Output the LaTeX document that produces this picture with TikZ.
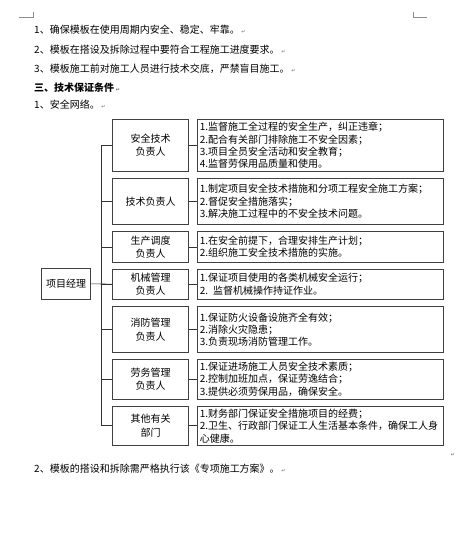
\documentclass[tikz,border=0pt]{standalone}
\usepackage{fontspec}
\setmainfont{Noto Sans CJK SC}
\newfontfamily\symfont{DejaVu Sans}
\newcommand{\pmk}{\,{\symfont\fontsize{5}{5}\selectfont\color{black!60}↵}}
\begin{document}
\begin{tikzpicture}[x=1pt,y=-1pt,
  every node/.style={inner sep=0pt, font=\fontsize{10}{12.4}\selectfont, text=black},
  lbox/.style={draw=black!75, line width=0.6pt, minimum width=75.6pt, align=center, font=\fontsize{10}{13.2}\selectfont},
  rbox/.style={draw=black!75, line width=0.6pt, text width=241pt, inner xsep=2.5pt, align=left},
  para/.style={anchor=west, font=\fontsize{10}{11}\selectfont},
  conn/.style={draw=black!80, line width=0.6pt},
  cornermark/.style={draw=black!45, line width=0.6pt}]
\useasboundingbox (0,0) rectangle (463,538);
% page corner marks
\coordinate (c1a) at (33,12); \coordinate (c1b) at (33,17); \coordinate (c1c) at (19,17);
\coordinate (c2a) at (413,12); \coordinate (c2b) at (413,17); \coordinate (c2c) at (427,17);
\draw[cornermark] (c1a) -- (c1b) -- (c1c);
\draw[cornermark] (c2a) -- (c2b) -- (c2c);
% text lines
\node[para] (t1) at (34,30) {1、确保模板在使用周期内安全、稳定、牢靠。\pmk};
\node[para] (t2) at (34,50) {2、模板在搭设及拆除过程中要符合工程施工进度要求。\pmk};
\node[para] (t3) at (34,69) {3、模板施工前对施工人员进行技术交底，严禁盲目施工。\pmk};
\node[para] (t4) at (34,88) {\bfseries 三、技术保证条件\pmk};
\node[para] (t5) at (34,105) {1、安全网络。\pmk};
\node[para] (t6) at (34,469) {2、模板的搭设和拆除需严格执行该《专项施工方案》。\pmk};
\node[anchor=west] (t7) at (449,455) {\pmk};
% left boxes
\node[lbox, minimum height=52.4pt] (l1) at (150.5,145.5) {安全技术\\负责人};
\node[lbox, minimum height=46pt] (l2) at (150.5,201.3) {技术负责人};
\node[lbox, minimum height=30.3pt] (l3) at (150.5,246.85) {生产调度\\负责人};
\node[lbox, minimum height=30.3pt] (l4) at (150.5,284.15) {机械管理\\负责人};
\node[lbox, minimum height=46pt] (l5) at (150.5,329.7) {消防管理\\负责人};
\node[lbox, minimum height=39.7pt] (l6) at (150.5,379.15) {劳务管理\\负责人};
\node[lbox, minimum height=39.5pt] (l7) at (150.5,425.75) {其他有关\\部门};
% right boxes
\node[rbox, minimum height=52.4pt] (r1) at (320.3,145.5) {1.监督施工全过程的安全生产，纠正违章；\\2.配合有关部门排除施工不安全因素；\\3.项目全员安全活动和安全教育；\\4.监督劳保用品质量和使用。};
\node[rbox, minimum height=46pt] (r2) at (320.3,201.3) {1.制定项目安全技术措施和分项工程安全施工方案；\\2.督促安全措施落实；\\3.解决施工过程中的不安全技术问题。};
\node[rbox, minimum height=30.3pt] (r3) at (320.3,246.85) {1.在安全前提下，合理安排生产计划；\\2.组织施工安全技术措施的实施。};
\node[rbox, minimum height=30.3pt] (r4) at (320.3,284.15) {1.保证项目使用的各类机械安全运行；\\2. 监督机械操作持证作业。};
\node[rbox, minimum height=46pt] (r5) at (320.3,329.7) {1.保证防火设备设施齐全有效；\\2.消除火灾隐患；\\3.负责现场消防管理工作。};
\node[rbox, minimum height=39.7pt] (r6) at (320.3,379.15) {1.保证进场施工人员安全技术素质；\\2.控制加班加点，保证劳逸结合；\\3.提供必须劳保用品，确保安全。};
\node[rbox, minimum height=39.5pt] (r7) at (320.3,425.75) {1.财务部门保证安全措施项目的经费；\\2.卫生、行政部门保证工人生活基本条件，确保工人身\\心健康。};
% project manager
\node[lbox, minimum width=49pt, minimum height=31pt] (pm) at (66.2,283.8) {项目经理};
% bus
\coordinate (bt) at (101,145.5);
\coordinate (bb) at (101,425.75);
\draw[conn] (bt) -- (bb);
\draw[conn] (pm.east) -- (l4.west);
\foreach \i in {1,...,7} {
  \draw[conn] (l\i.west -| bt) -- (l\i.west);
  \draw[conn] (l\i.east) -- (r\i.west);
}
\end{tikzpicture}
\end{document}
